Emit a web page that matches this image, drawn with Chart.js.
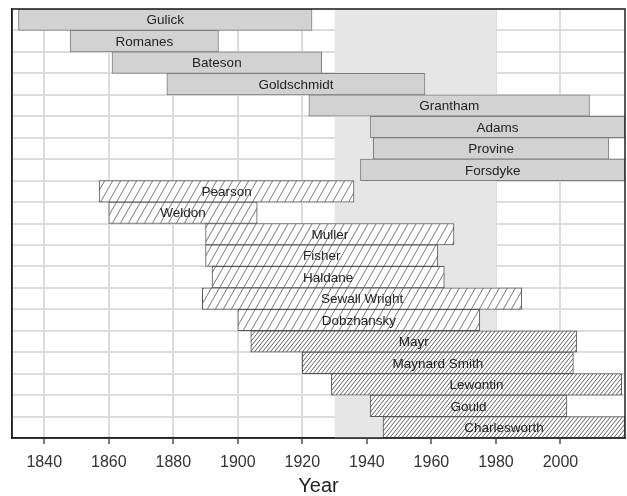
<!DOCTYPE html>
<html>
<head>
<meta charset="utf-8">
<script src="https://cdn.jsdelivr.net/npm/chart.js@4"></script>
<style>
  html, body { margin: 0; padding: 0; background: #fff; }
  #wrap { width: 627px; height: 496px; }
</style>
</head>
<body>
<div id="wrap"><canvas id="timeline"></canvas></div>
<script>
// people on the timeline, top to bottom
var names = ['Gulick', 'Romanes', 'Bateson', 'Goldschmidt', 'Grantham', 'Adams', 'Provine', 'Forsdyke',
    'Pearson', 'Weldon', 'Muller', 'Fisher', 'Haldane', 'Sewall Wright', 'Dobzhansky',
    'Mayr', 'Maynard Smith', 'Lewontin', 'Gould', 'Charlesworth'];
var startYears = [1832, 1848, 1861, 1878, 1922, 1941, 1942, 1938,
    1857, 1860, 1890, 1890, 1892, 1889, 1900,
    1904, 1920, 1929, 1941, 1945];
var endYears = [1923, 1894, 1926, 1958, 2009, 2020, 2015, 2020,
    1936, 1906, 1967, 1962, 1964, 1988, 1975,
    2005, 2004, 2019, 2002, 2020];
// which group each person belongs to
var groups = ['a', 'a', 'a', 'a', 'a', 'a', 'a', 'a',
    'b', 'b', 'b', 'b', 'b', 'b', 'b',
    'c', 'c', 'c', 'c', 'c'];
var xTicks = [1840, 1860, 1880, 1900, 1920, 1940, 1960, 1980, 2000];
var shadedPeriod = [1930, 1980];

document.addEventListener('DOMContentLoaded', function () {
    var ctx = document.getElementById('timeline').getContext('2d');

    // diagonal hatch pattern
    function hatch(w, h, color, lw) {
        var c = document.createElement('canvas');
        c.width = w;
        c.height = h;
        var g = c.getContext('2d');
        g.fillStyle = '#ffffff';
        g.fillRect(0, 0, w, h);
        g.strokeStyle = color;
        g.lineWidth = lw;
        for (var k = -1; k <= 1; k++) {
            g.beginPath();
            g.moveTo(-w, 2 * h + k * h);
            g.lineTo(2 * w, -h + k * h);
            g.stroke();
        }
        return ctx.createPattern(c, 'repeat');
    }

    var fills = { a: '#d2d2d2', b: hatch(8, 14, '#555555', 0.8), c: hatch(4, 5, '#505050', 0.9) };
    var borders = { a: '#7c7c7c', b: '#555555', c: '#555555' };

    var spans = names.map(function (n, i) { return [startYears[i], endYears[i]]; });

    var bandPlugin = {
        id: 'band',
        beforeDatasetsDraw: function (chart) {
            var a = chart.chartArea, x = chart.scales.x, c = chart.ctx;
            var x0 = x.getPixelForValue(shadedPeriod[0]);
            var x1 = x.getPixelForValue(shadedPeriod[1]);
            c.save();
            c.fillStyle = '#e6e6e6';
            c.fillRect(x0, a.top, x1 - x0, a.bottom - a.top);
            c.restore();
        }
    };

    var labelPlugin = {
        id: 'barLabels',
        afterDatasetsDraw: function (chart) {
            var c = chart.ctx, meta = chart.getDatasetMeta(0);
            c.save();
            c.font = '13.5px "Liberation Sans", Arial, sans-serif';
            c.fillStyle = '#222222';
            c.textAlign = 'center';
            c.textBaseline = 'middle';
            meta.data.forEach(function (bar, i) {
                var cx = (bar.x + bar.base) / 2;
                c.fillText(names[i], cx, bar.y + 1);
            });
            c.restore();
        }
    };

    var framePlugin = {
        id: 'frame',
        afterDraw: function (chart) {
            var a = chart.chartArea, c = chart.ctx;
            c.save();
            c.strokeStyle = '#222222';
            c.lineWidth = 1.5;
            c.strokeRect(a.left, a.top, a.right - a.left, a.bottom - a.top);
            c.restore();
        }
    };

    new Chart(ctx, {
        type: 'bar',
        data: {
            labels: names,
            datasets: [{
                data: spans,
                backgroundColor: groups.map(function (g) { return fills[g]; }),
                borderColor: groups.map(function (g) { return borders[g]; }),
                borderWidth: 1,
                borderSkipped: false,
                categoryPercentage: 1,
                barPercentage: 1
            }]
        },
        options: {
            indexAxis: 'y',
            responsive: true,
            maintainAspectRatio: false,
            animation: false,
            layout: { padding: { left: 12, top: 9, right: 2, bottom: 0 } },
            plugins: {
                legend: { display: false },
                tooltip: { enabled: false }
            },
            scales: {
                x: {
                    type: 'linear',
                    min: 1830,
                    max: 2020,
                    afterBuildTicks: function (axis) {
                        axis.ticks = xTicks.map(function (v) { return { value: v }; });
                    },
                    afterFit: function (axis) { axis.height = 58; },
                    ticks: {
                        color: '#333333',
                        padding: 11,
                        font: { family: '"Liberation Sans", Arial, sans-serif', size: 16, lineHeight: 1 },
                        callback: function (v) { return String(v); }
                    },
                    grid: { color: '#dcdcdc', lineWidth: 2, tickLength: 6, tickColor: '#222222', tickWidth: 1.2 },
                    border: { color: '#222222', width: 1.5 },
                    title: {
                        display: true,
                        text: 'Year',
                        color: '#222222',
                        padding: { top: 0, bottom: 0 },
                        font: { family: '"Liberation Sans", Arial, sans-serif', size: 20, lineHeight: 1 }
                    }
                },
                y: {
                    ticks: { display: false },
                    grid: { color: '#dcdcdc', lineWidth: 2, drawTicks: false },
                    border: { color: '#222222', width: 1.5 }
                }
            }
        },
        plugins: [bandPlugin, labelPlugin, framePlugin]
    });
});
</script>
</body>
</html>
